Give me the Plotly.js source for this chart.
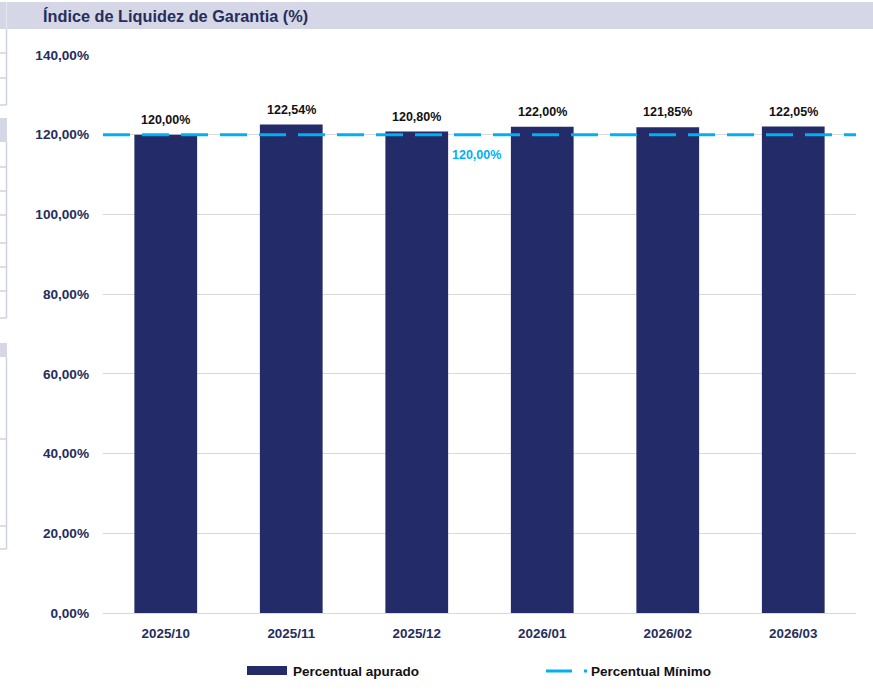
<!DOCTYPE html>
<html>
<head>
<meta charset="utf-8">
<script src="https://cdn.plot.ly/plotly-3.0.1.min.js"></script>
<style>html,body{margin:0;padding:0;background:#fff;}#chart{width:873px;height:694px;}</style>
</head>
<body>
<div id="chart"></div>
<script>
const categories = ["2025/10", "2025/11", "2025/12", "2026/01", "2026/02", "2026/03"];
const apurado = [120.00, 122.54, 120.80, 122.00, 121.85, 122.05];
const minimo = [120.00, 120.00, 120.00, 120.00, 120.00, 120.00];
const yTicks = [0, 20, 40, 60, 80, 100, 120, 140];
const seriesNames = ["Percentual apurado", "Percentual Mínimo"];

const W = 873, H = 694, L = 103, R = 856, T = 55, B = 613;
const px = x => (x - L) / (R - L);
const py = y => (B - y) / (B - T);
const fmt = v => v.toFixed(2).replace('.', ',') + '%';
const navy = '#262d5c';
const cyan = '#00b0f0';
const barColor = '#232b69';
const lav = '#d5d7e6';
const cellLine = '#cfd2e4';
const FONT = 'Liberation Sans, Arial, sans-serif';

const shapes = [];
// title band
shapes.push({type:'rect', xref:'paper', yref:'paper', x0:px(0), x1:px(W), y0:py(29), y1:py(2), fillcolor:lav, line:{width:0}, layer:'below'});
shapes.push({type:'line', xref:'paper', yref:'paper', x0:px(6.5), x1:px(6.5), y0:py(29), y1:py(2), line:{color:'#e6e8f0', width:1}});
// left spreadsheet cell remnants
const vline = (x, y0, y1) => shapes.push({type:'line', xref:'paper', yref:'paper', x0:px(x), x1:px(x), y0:py(y0), y1:py(y1), line:{color:cellLine, width:1.5}});
const hline = (y) => shapes.push({type:'line', xref:'paper', yref:'paper', x0:px(0), x1:px(6.5), y0:py(y), y1:py(y), line:{color:cellLine, width:1.5}});
const band = (y0, y1) => shapes.push({type:'rect', xref:'paper', yref:'paper', x0:px(0), x1:px(7), y0:py(y1), y1:py(y0), fillcolor:lav, line:{width:0}});
vline(6.5, 29, 105); [53, 78, 105].forEach(hline);
band(118, 142);
vline(6.5, 142, 318); [167, 191, 215, 243, 267, 291, 318].forEach(hline);
band(343, 357);
vline(6.5, 357, 549); [439, 526, 549].forEach(hline);

// custom legend (Excel style)
shapes.push({type:'rect', xref:'paper', yref:'paper', x0:px(247), x1:px(287), y0:py(675), y1:py(666), fillcolor:barColor, line:{width:0}});
shapes.push({type:'line', xref:'paper', yref:'paper', x0:px(546), x1:px(572), y0:py(671), y1:py(671), line:{color:cyan, width:3}});
shapes.push({type:'rect', xref:'paper', yref:'paper', x0:px(584), x1:px(587), y0:py(672.5), y1:py(669.5), fillcolor:cyan, line:{width:0}});

const annotations = categories.map((c, i) => ({
  x: c, y: apurado[i], xref: 'x', yref: 'y', text: fmt(apurado[i]),
  showarrow: false, yanchor: 'bottom', yshift: 6,
  font: {family: FONT, size: 12.5, color: '#111111', weight: 'bold'}
}));
annotations.push({
  x: categories[2], y: minimo[2], xref: 'x', yref: 'y', text: fmt(minimo[2]),
  showarrow: false, xanchor: 'left', yanchor: 'middle', xshift: 33, yshift: -20,
  font: {family: FONT, size: 12.5, color: cyan, weight: 'bold'}
});
annotations.push({
  x: px(291), y: py(671), xref: 'paper', yref: 'paper', text: seriesNames[0],
  showarrow: false, xanchor: 'left', yanchor: 'middle',
  font: {family: FONT, size: 13.5, color: '#111111', weight: 'bold'}
});
annotations.push({
  x: px(589), y: py(671), xref: 'paper', yref: 'paper', text: seriesNames[1],
  showarrow: false, xanchor: 'left', yanchor: 'middle',
  font: {family: FONT, size: 13.5, color: '#111111', weight: 'bold'}
});

const traces = [
  {
    type: 'bar', name: seriesNames[0], x: categories, y: apurado,
    marker: {color: barColor, line: {width: 0}}, hoverinfo: 'skip'
  },
  {
    type: 'scatter', mode: 'lines', name: seriesNames[1],
    x: [0, 1], y: [minimo[0], minimo[minimo.length - 1]], xaxis: 'x2', yaxis: 'y',
    line: {color: cyan, width: 3, dash: '27px,12px'}, hoverinfo: 'skip'
  }
];

const layout = {
  width: W, height: H,
  margin: {l: L, r: W - R, t: T, b: H - B, pad: 0, autoexpand: false},
  paper_bgcolor: '#ffffff', plot_bgcolor: '#ffffff',
  separators: ',.',
  hovermode: false,
  title: {
    text: 'Índice de Liquidez de Garantia (%)',
    xref: 'container', yref: 'container', x: 43 / W, xanchor: 'left', y: 1 - 16 / H, yanchor: 'middle',
    font: {family: FONT, size: 16.3, color: navy, weight: 'bold'}
  },
  bargap: 0.5,
  xaxis: {
    type: 'category', range: [-0.5, 5.5], showgrid: false, zeroline: false,
    showline: true, linecolor: '#d9d9d9', linewidth: 1, ticks: '',
    ticklabelstandoff: 8,
    tickfont: {family: FONT, size: 13.4, color: navy, weight: 'bold'}
  },
  xaxis2: {overlaying: 'x', range: [0, 1], visible: false, fixedrange: true},
  yaxis: {
    range: [0, 140], tickvals: yTicks, ticktext: yTicks.map(fmt),
    showgrid: true, gridcolor: '#d9d9d9', gridwidth: 1, zeroline: false, showline: false, ticks: '',
    ticklabelstandoff: 13,
    tickfont: {family: FONT, size: 13.6, color: navy, weight: 'bold'}
  },
  showlegend: false,
  shapes: shapes,
  annotations: annotations
};

Plotly.newPlot('chart', traces, layout, {displayModeBar: false, staticPlot: true});
</script>
</body>
</html>
